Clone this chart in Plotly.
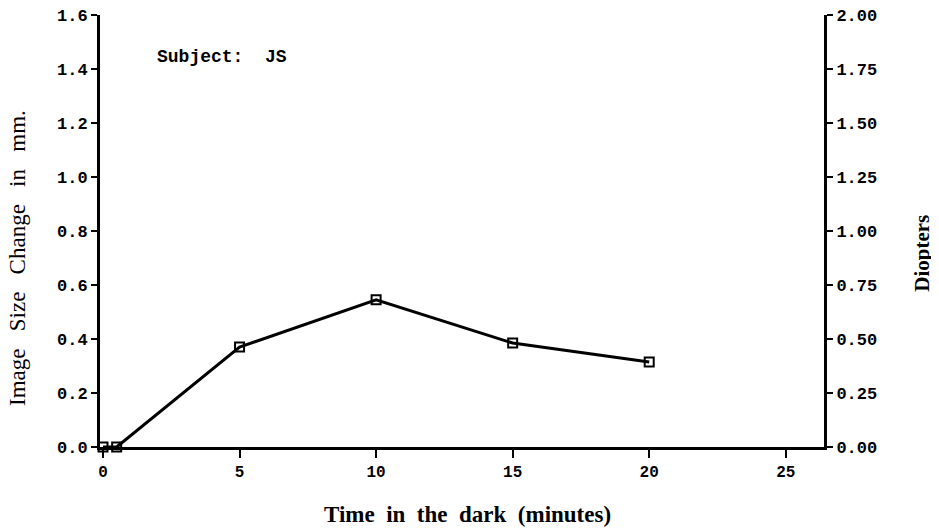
import plotly.graph_objects as go

time_min = [0, 0.5, 5, 10, 15, 20]
image_change_mm = [0.0, 0.0, 0.37, 0.545, 0.385, 0.315]

x_ticks = [0, 5, 10, 15, 20, 25]
y_left_ticks = [0.0, 0.2, 0.4, 0.6, 0.8, 1.0, 1.2, 1.4, 1.6]
y_right_ticks = [0.0, 0.25, 0.5, 0.75, 1.0, 1.25, 1.5, 1.75, 2.0]

mono = dict(family="Liberation Mono", size=17, color="black")

fig = go.Figure()
fig.add_trace(go.Scatter(
    x=time_min, y=image_change_mm, mode="lines+markers",
    line=dict(color="black", width=3),
    marker=dict(symbol="square-open", size=9, color="black", line=dict(width=2)),
    showlegend=False, cliponaxis=False,
))
fig.add_trace(go.Scatter(x=[None], y=[None], yaxis="y2", showlegend=False, hoverinfo="skip"))

fig.update_layout(
    width=931, height=521,
    margin=dict(l=92, r=115, t=7, b=82, autoexpand=False),
    paper_bgcolor="white", plot_bgcolor="white",
    xaxis=dict(
        range=[-0.11, 26.4], tickvals=x_ticks, ticktext=[f"<b>{v}</b>" for v in x_ticks],
        showline=True, linecolor="black", linewidth=3, showgrid=False, zeroline=False,
        ticks="outside", ticklen=8, tickwidth=2, tickcolor="black", automargin=False,
        tickfont=dict(family="Liberation Mono", size=16, color="black"),
        ticklabeloverflow="allow",
    ),
    yaxis=dict(
        range=[0, 1.6], tickvals=y_left_ticks, ticktext=[f"<b>{v:.1f}</b>" for v in y_left_ticks],
        showline=True, linecolor="black", linewidth=3, showgrid=False, zeroline=False,
        ticks="outside", ticklen=6, tickwidth=2, tickcolor="black", tickfont=mono,
        automargin=False, ticklabeloverflow="allow",
    ),
    yaxis2=dict(
        range=[0, 2.0], overlaying="y", side="right", anchor="x",
        tickvals=y_right_ticks, ticktext=[f"<b>{v:.2f}</b>" for v in y_right_ticks],
        showline=True, linecolor="black", linewidth=3, showgrid=False, zeroline=False,
        ticks="outside", ticklen=6, tickwidth=2, tickcolor="black", tickfont=mono,
        automargin=False, ticklabeloverflow="allow",
    ),
    annotations=[
        dict(text="<b>Subject:  JS</b>", x=0.076, y=0.903, xref="paper", yref="paper",
             xanchor="left", yanchor="middle", showarrow=False,
             font=dict(family="Liberation Mono", size=18, color="black")),
        dict(text="Image   Size   Change   in   mm.", x=-0.113, y=0.438, xref="paper", yref="paper",
             xanchor="center", yanchor="middle", showarrow=False, textangle=-90,
             font=dict(family="Liberation Serif", size=23, color="black")),
        dict(text="<b>Diopters</b>", x=1.135, y=0.449, xref="paper", yref="paper",
             xanchor="center", yanchor="middle", showarrow=False, textangle=-90,
             font=dict(family="Liberation Serif", size=21, color="black")),
        dict(text="<b>Time  in  the  dark  (minutes)</b>", x=0.507, y=-0.157, xref="paper", yref="paper",
             xanchor="center", yanchor="middle", showarrow=False,
             font=dict(family="Liberation Serif", size=23, color="black")),
    ],
)

fig.write_html("out.html")
